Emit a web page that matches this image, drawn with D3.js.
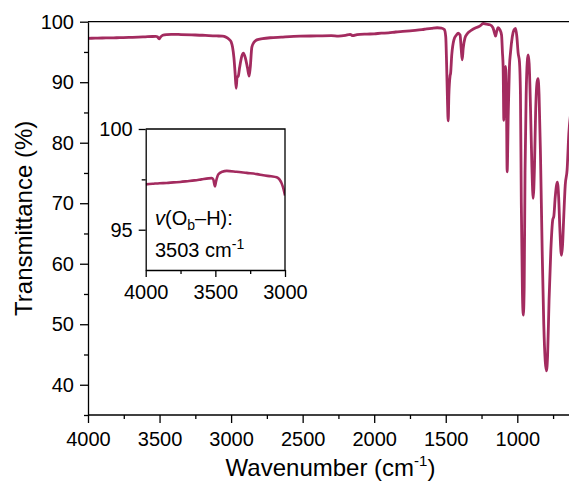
<!DOCTYPE html>
<html>
<head>
<meta charset="utf-8">
<script src="https://cdn.jsdelivr.net/npm/d3@7"></script>
<style>
  html, body { margin: 0; padding: 0; background: #fff; }
  svg { display: block; font-family: "Liberation Sans", Arial, sans-serif; }
  .axis path, .axis line { stroke: #000; stroke-width: 1.3; }
  .axis text { font-size: 20px; fill: #000; font-family: "Liberation Sans", Arial, sans-serif; }
</style>
</head>
<body>
<svg id="chart" width="569" height="489"></svg>
<script>
// FTIR spectrum: wavenumber (cm-1) and transmittance (%)
const wavenumbers = [
  4000, 3950, 3900, 3850, 3800, 3753, 3700, 3650, 3600, 3550, 3526, 3515, 3503, 3495, 3478,
  3450, 3418, 3350, 3275, 3200, 3156, 3100, 3060, 3040, 3024, 3010, 3000, 2990, 2980, 2972,
  2965, 2958, 2950, 2940, 2925, 2914, 2900, 2885, 2874, 2866, 2855, 2840, 2820, 2780, 2727,
  2650, 2518, 2400, 2300, 2250, 2200, 2168, 2150, 2120, 2050, 2000, 1950, 1900, 1850, 1800,
  1750, 1700, 1650, 1600, 1560, 1530, 1510, 1500, 1494, 1488, 1483, 1478, 1470, 1466, 1458,
  1443, 1425, 1413, 1400, 1392, 1385, 1378, 1366, 1350, 1320, 1290, 1260, 1239, 1215, 1192,
  1170, 1160, 1152, 1145, 1134, 1122, 1110, 1104, 1099, 1094, 1088, 1082, 1076, 1071, 1063,
  1055, 1047, 1035, 1024, 1012, 1003, 994, 985, 978, 972, 964, 958, 952, 946, 938,
  930, 924, 917, 908, 898, 889, 880, 872, 862, 855, 848, 838, 826, 815, 805,
  796, 788, 778, 766, 752, 745, 735, 720, 711, 703, 695, 691, 684, 675, 665,
  652, 640, 620, 600
];
const transmittance = [
  97.25, 97.28, 97.31, 97.32, 97.35, 97.37, 97.41, 97.45, 97.5, 97.55, 97.56, 97.5, 97.15, 97.4, 97.75,
  97.88, 97.92, 97.88, 97.82, 97.76, 97.7, 97.65, 97.6, 97.5, 97.3, 97.0, 96.7, 95.8, 94.0, 91.5,
  89.0, 90.8, 91.0, 92.5, 94.3, 94.8, 94.0, 92.3, 91.0, 92.5, 95.8, 96.6, 97.0, 97.2, 97.35,
  97.45, 97.6, 97.65, 97.7, 97.62, 97.75, 97.9, 97.7, 97.85, 97.95, 98.0, 98.1, 98.15, 98.3, 98.4,
  98.5, 98.6, 98.75, 98.9, 99.0, 98.95, 98.7, 97.5, 93.0, 87.0, 83.6, 88.0, 91.0, 91.5, 94.5,
  97.0, 97.8, 98.1, 97.8, 95.5, 93.7, 95.6, 97.3, 98.0, 98.6, 99.0, 99.3, 99.7, 99.6, 99.5,
  99.0, 98.2, 97.6, 98.3, 99.0, 98.7, 97.8, 95.0, 92.5, 83.7, 91.0, 92.6, 88.0, 75.2, 85.0,
  92.5, 95.0, 97.5, 98.6, 98.9, 97.5, 94.8, 93.4, 88.0, 70.0, 55.0, 51.5, 56.0, 75.0, 88.0,
  93.5, 94.5, 93.0, 86.0, 76.0, 70.8, 76.0, 85.0, 90.0, 90.6, 88.0, 78.0, 62.0, 50.0, 44.0,
  42.3, 45.0, 54.0, 62.0, 67.3, 67.8, 71.0, 73.5, 71.0, 66.0, 62.0, 61.4, 63.0, 68.0, 73.0,
  75.5, 81.5, 86.0, 89.0
];

// Axis ticks
const xMajorTicks = [4000, 3500, 3000, 2500, 2000, 1500, 1000];
const xMinorTicks = [3750, 3250, 2750, 2250, 1750, 1250, 750];
const yMajorTicks = [40, 50, 60, 70, 80, 90, 100];
const yMinorTicks = [35, 45, 55, 65, 75, 85, 95];
const insetXMajor = [4000, 3500, 3000];
const insetXMinor = [3750, 3250];
const insetYMajor = [95, 100];
const insetYMinor = [97.5];

const lineColor = "#a32b5f";
const spectrum = wavenumbers.map((w, i) => ({ w, t: transmittance[i] }));
const intFmt = d3.format("d");

const svg = d3.select("#chart");
const W = 569, H = 489;
const plot = { left: 88, top: 21.7, bottom: 415 };

const x = d3.scaleLinear().domain([4000, 600]).range([plot.left, plot.left + 3400 * 0.1431]);
const y = d3.scaleLinear().domain([35, 100]).range([plot.bottom, plot.top]);

svg.append("clipPath").attr("id", "mainClip")
  .append("rect").attr("x", plot.left).attr("y", plot.top - 5)
  .attr("width", W - plot.left).attr("height", plot.bottom - plot.top + 5);

const line = d3.line().x(d => x(d.w)).y(d => y(d.t)).curve(d3.curveMonotoneX);

svg.append("path").datum(spectrum)
  .attr("clip-path", "url(#mainClip)")
  .attr("d", line)
  .attr("fill", "none").attr("stroke", lineColor)
  .attr("stroke-width", 2.8).attr("stroke-linejoin", "round");

// Main axes
const gx = svg.append("g").attr("class", "axis").attr("transform", `translate(0,${plot.bottom})`)
  .call(d3.axisBottom(x).tickValues(xMajorTicks).tickFormat(intFmt).tickSize(8).tickPadding(9).tickSizeOuter(0));
gx.select(".domain").attr("d", `M${plot.left},0H${W}`);
svg.append("g").attr("class", "axis").attr("transform", `translate(0,${plot.bottom})`)
  .call(d3.axisBottom(x).tickValues(xMinorTicks).tickSize(4).tickFormat(""))
  .select(".domain").remove();

svg.append("g").attr("class", "axis").attr("transform", `translate(${plot.left},0)`)
  .call(d3.axisLeft(y).tickValues(yMajorTicks).tickFormat(intFmt).tickSize(8).tickPadding(6).tickSizeOuter(0));
svg.append("g").attr("class", "axis").attr("transform", `translate(${plot.left},0)`)
  .call(d3.axisLeft(y).tickValues(yMinorTicks).tickSize(4).tickFormat(""))
  .select(".domain").remove();

svg.append("line").attr("x1", plot.left).attr("x2", W).attr("y1", plot.top).attr("y2", plot.top)
  .attr("stroke", "#000").attr("stroke-width", 1.3);

// Axis titles
const xTitle = svg.append("text").attr("x", (plot.left + W) / 2 + 2).attr("y", 476)
  .attr("text-anchor", "middle").attr("font-size", 24).text("Wavenumber (cm");
xTitle.append("tspan").attr("font-size", 15).attr("dy", -10).text("-1");
xTitle.append("tspan").attr("dy", 10).text(")");

svg.append("text").attr("transform", `translate(32,${(plot.top + plot.bottom) / 2}) rotate(-90)`)
  .attr("text-anchor", "middle").attr("font-size", 24).text("Transmittance (%)");

// Inset: O–H stretching region
const inset = { left: 145.7, right: 285, top: 129, bottom: 270 };
const ix = d3.scaleLinear().domain([4000, 3000]).range([inset.left, inset.right]);
const iy = d3.scaleLinear().domain([93, 100]).range([inset.bottom, inset.top]);

svg.append("rect").attr("x", inset.left).attr("y", inset.top)
  .attr("width", inset.right - inset.left).attr("height", inset.bottom - inset.top)
  .attr("fill", "#fff");

svg.append("clipPath").attr("id", "insetClip")
  .append("rect").attr("x", inset.left).attr("y", inset.top)
  .attr("width", inset.right - inset.left).attr("height", inset.bottom - inset.top);

const insetLine = d3.line().x(d => ix(d.w)).y(d => iy(d.t)).curve(d3.curveMonotoneX);
svg.append("path").datum(spectrum.filter(d => d.w >= 3000))
  .attr("clip-path", "url(#insetClip)")
  .attr("d", insetLine)
  .attr("fill", "none").attr("stroke", lineColor)
  .attr("stroke-width", 2.6).attr("stroke-linejoin", "round");

svg.append("g").attr("class", "axis").attr("transform", `translate(0,${inset.bottom})`)
  .call(d3.axisBottom(ix).tickValues(insetXMajor).tickFormat(intFmt).tickSize(7).tickPadding(8).tickSizeOuter(0));
svg.append("g").attr("class", "axis").attr("transform", `translate(0,${inset.bottom})`)
  .call(d3.axisBottom(ix).tickValues(insetXMinor).tickSize(4).tickFormat(""))
  .select(".domain").remove();
svg.append("g").attr("class", "axis").attr("transform", `translate(${inset.left},0)`)
  .call(d3.axisLeft(iy).tickValues(insetYMajor).tickFormat(intFmt).tickSize(7).tickPadding(6).tickSizeOuter(0));
svg.append("g").attr("class", "axis").attr("transform", `translate(${inset.left},0)`)
  .call(d3.axisLeft(iy).tickValues(insetYMinor).tickSize(4).tickFormat(""))
  .select(".domain").remove();
svg.append("path")
  .attr("d", `M${inset.left},${inset.top}H${inset.right}V${inset.bottom}`)
  .attr("fill", "none").attr("stroke", "#000").attr("stroke-width", 1.3);

// Inset annotation
const ann1 = svg.append("text").attr("x", 155).attr("y", 225).attr("font-size", 20);
ann1.append("tspan").attr("font-style", "italic").text("v");
ann1.append("tspan").text("(O");
ann1.append("tspan").attr("font-size", 14).attr("dy", 5).text("b");
ann1.append("tspan").attr("dy", -5).text("–H):");

const ann2 = svg.append("text").attr("x", 155).attr("y", 256.5).attr("font-size", 20).text("3503 cm");
ann2.append("tspan").attr("font-size", 14).attr("dy", -8).text("-1");
</script>
</body>
</html>
